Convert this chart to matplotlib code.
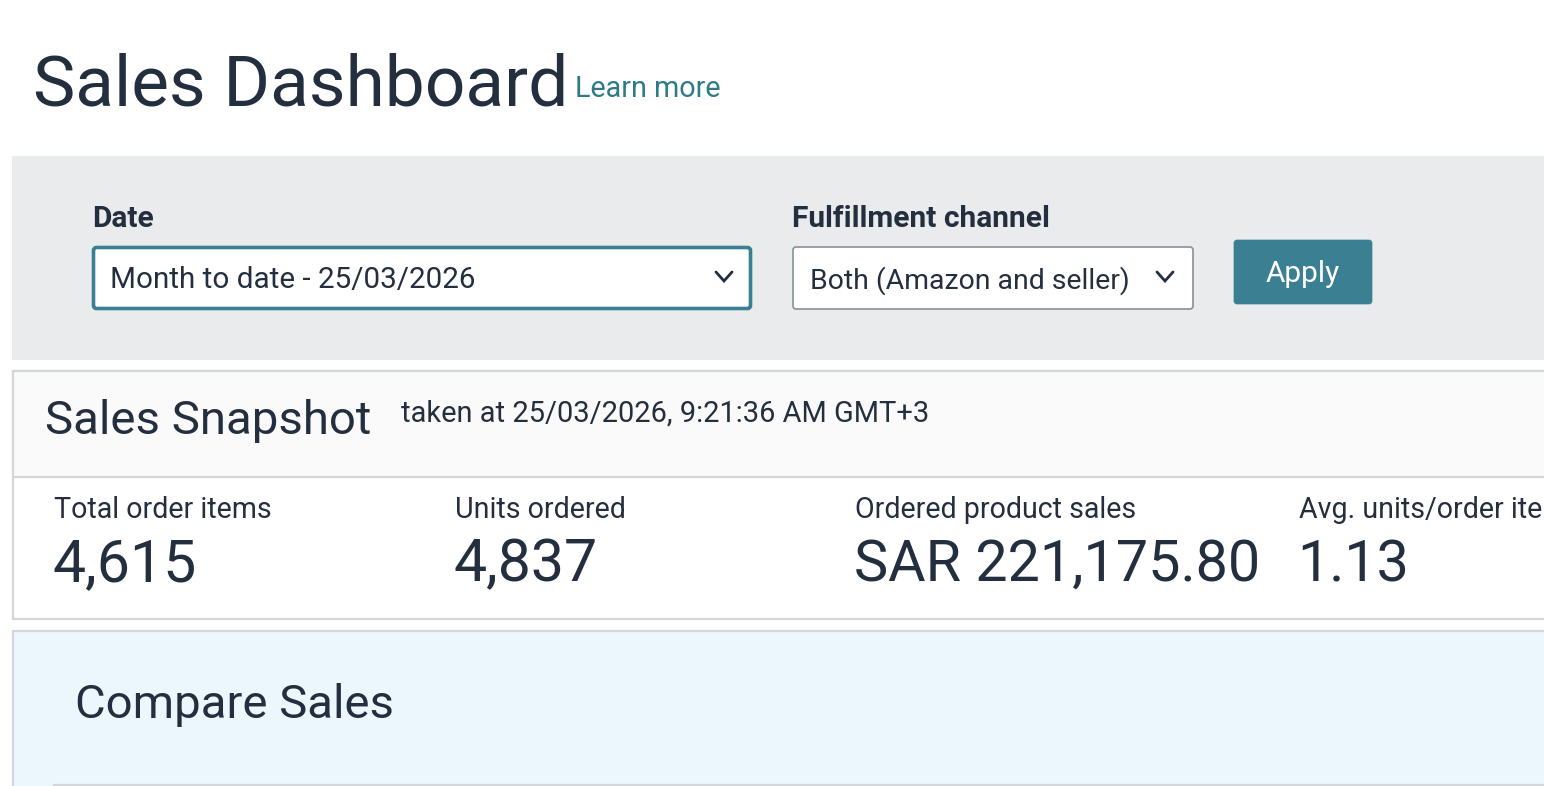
import matplotlib
matplotlib.use("Agg")
import matplotlib.pyplot as plt
from matplotlib.patches import Rectangle, FancyBboxPatch

plt.rcParams['font.family'] = ['Roboto', 'DejaVu Sans']

# Текст і значення панелі
page_title = "Sales Dashboard"
learn_more = "Learn more"
filter_labels = ["Date", "Fulfillment channel"]
filter_values = ["Month to date - 25/03/2026", "Both (Amazon and seller)"]
button_label = "Apply"
snapshot_title = "Sales Snapshot"
snapshot_time = "taken at 25/03/2026, 9:21:36 AM GMT+3"
metric_names = ["Total order items", "Units ordered", "Ordered product sales", "Avg. units/order item"]
metric_values = ["4,615", "4,837", "SAR 221,175.80", "1.13"]
compare_title = "Compare Sales"

# Положення та розміри на екрані, пікселі
metric_x = [54, 455, 855, 1299]
value_sizes = [59, 59, 57.5, 57.5]

DARK = "#232f3e"
TEAL = "#3b7f92"
GREY_LINE = "#d5d6d9"

fig = plt.figure(figsize=(15.44, 7.86), dpi=100)
ax = fig.add_axes([0, 0, 1, 1])
ax.set_xlim(0, 1544)
ax.set_ylim(786, 0)
ax.axis("off")


def rect(x, y, w, h, fc, ec="none", lw=0, z=1):
    ax.add_patch(Rectangle((x, y), w, h, facecolor=fc, edgecolor=ec, linewidth=lw, zorder=z))


def rounded(x, y, w, h, fc, ec, lw, z=2):
    ax.add_patch(FancyBboxPatch((x + 3, y + 3), w - 6, h - 6, boxstyle="round,pad=3,rounding_size=3",
                                facecolor=fc, edgecolor=ec, linewidth=lw, zorder=z))


def chevron(cx, cy):
    ax.plot([cx - 8, cx, cx + 8], [cy - 5, cy + 4, cy - 5], color=DARK, linewidth=2, zorder=4,
            solid_capstyle="round", solid_joinstyle="miter")


def label(x, y, s, px, color=DARK, weight="normal", ha="left"):
    ax.text(x, y, s, fontsize=px * 0.72, color=color, fontweight=weight, ha=ha, va="baseline", zorder=5)


# Заголовок
label(33, 106, page_title, 71.3)
label(575, 97, learn_more, 28.8, color="#2f7a87")

# Блок фільтрів
rect(12, 156, 1532, 204, "#eaebed")
label(92, 227, filter_labels[0], 29.9, weight="bold")
label(792, 227, filter_labels[1], 29.9, weight="bold")
rounded(93.5, 247.5, 657, 61, "white", TEAL, 2.6)
label(110, 288.5, filter_values[0], 29.6)
chevron(724, 277)
rounded(793, 247, 400, 62, "white", "#879196", 1.2)
label(810, 288.5, filter_values[1], 28.4)
chevron(1165, 277)
rounded(1234, 240, 138, 64, TEAL, TEAL, 0.5)
label(1303, 282.5, button_label, 29.7, color="white", ha="center")

# Знімок продажів
rect(13, 371, 1540, 248, "white", GREY_LINE, 1.6)
rect(13, 371, 1540, 106, "#fafafa", GREY_LINE, 1.6, z=2)
label(45, 434, snapshot_title, 47.4)
label(401, 422, snapshot_time, 29)
for x, name, value, size in zip(metric_x, metric_names, metric_values, value_sizes):
    label(x, 518.5, name, 28.6)
    label(x - 1.5, 581, value, size)

# Порівняння продажів
rect(13, 631, 1540, 170, "#ebf6fd", GREY_LINE, 1.6)
label(75, 718, compare_title, 47.3)
ax.plot([54, 1544], [784.5, 784.5], color=GREY_LINE, linewidth=1.6, zorder=3)

fig.savefig("out.png", dpi=100)
